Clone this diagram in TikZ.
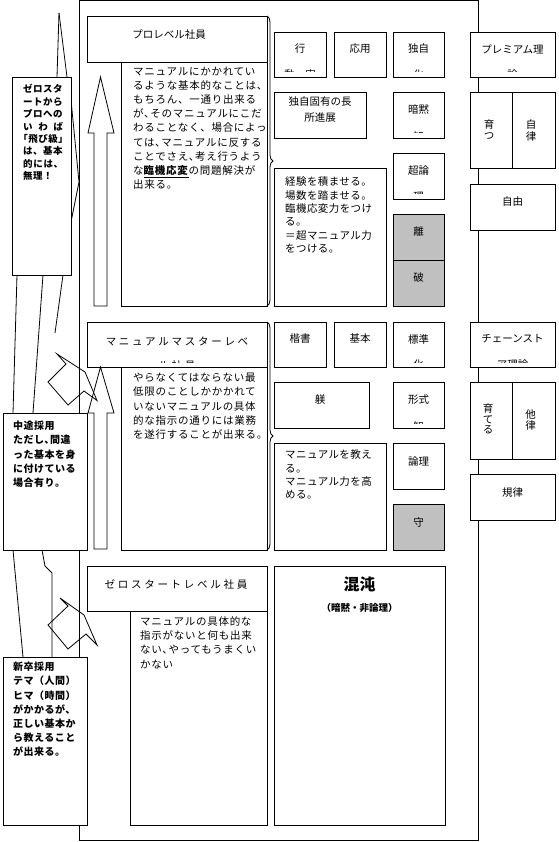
\documentclass[tikz,border=0pt]{standalone}
\usepackage{fontspec}
\setmainfont{Noto Sans CJK JP}
\usetikzlibrary{decorations.pathreplacing}
\definecolor{shade}{RGB}{192,192,192}
\tikzset{
  ln/.style={line width=0.8pt},
  bx/.style={draw, line width=0.8pt, fill=white, inner sep=0pt, outer sep=0pt, anchor=north west},
  gbx/.style={bx, fill=shade},
  lbl/.style={inner sep=0pt, align=center, font=\fontsize{10.5}{11}\selectfont},
  hdr/.style={inner sep=0pt, font=\fontsize{10.5}{14}\selectfont\addfontfeature{LetterSpace=26}},
  body/.style={inner sep=0pt, anchor=north west, align=left, font=\fontsize{10.5}{14.2}\selectfont\addfontfeature{LetterSpace=7}},
  note/.style={inner sep=0pt, anchor=north west, align=left, font=\fontsize{10.5}{13.4}\selectfont\addfontfeature{LetterSpace=4}},
  callA/.style={inner sep=0pt, anchor=north west, align=left, font=\fontsize{9.5}{12.4}\selectfont\bfseries\addfontfeature{LetterSpace=5}},
  callB/.style={inner sep=0pt, anchor=north west, align=left, font=\fontsize{10}{14.2}\selectfont\bfseries\addfontfeature{LetterSpace=5}},
  brc/.style={line width=0.8pt, decorate, decoration={brace, amplitude=6pt}},
  barrow/.style={line width=0.8pt, fill=white}
}
\begin{document}
\begin{tikzpicture}[x=1pt,y=-1pt]
\useasboundingbox (0,0) rectangle (558,842);
% outer frame
\node[bx, minimum width=399pt, minimum height=839.4pt] (frame) at (79,0.6) {};

% ---------- left side lines ----------
\coordinate (s1) at (59,13);
\draw[ln] (s1) -- (57,77);
\draw[ln] (s1) -- (67,77);
\draw[ln] (71,100) -- (79,182) -- (71,222);
\draw[ln] (17,275) -- (13,413);
\draw[ln] (43,275) -- (33,413);
\draw[ln] (63,275) -- (55,333);
\draw[ln] (13,550) -- (23,657);
\draw[ln] (42,550) -- (45,566) -- (52,573) -- (52,657);

% ---------- PRO section ----------
\node[bx, minimum width=180pt, minimum height=46pt] (proH) at (87,16) {};
\node[bx, minimum width=146pt, minimum height=244pt] (proT) at (121,62) {};
\node[lbl] (proHt) at (169,35) {プロレベル社員};
\node[body] (proTt) at (133,66.6) {マニュアルにかかれてい\\るような基本的なことは、\\もちろん、一通り出来る\\が､そのマニュアルにこだ\\わることなく、場合によっ\\ては､マニュアルに反する\\ことでさえ､考え行うよう\\な\underline{\textbf{臨機応変}}の問題解決が\\出来る。};
\draw[brc] (proH.north east) -- (proT.south east);
\draw[barrow] (94,306) -- (94,133) -- (88,133) -- (100.5,77) -- (114,133) -- (107,133) -- (107,306) -- cycle;

\node[bx, minimum width=52pt, minimum height=45pt] (gyo) at (274,32) {};
\node[bx, minimum width=52pt, minimum height=45pt] (oyo) at (334,32) {};
\node[bx, minimum width=51pt, minimum height=45pt] (dokuji) at (393,32) {};
\node[bx, minimum width=92pt, minimum height=46pt] (chosho) at (274,92) {};
\node[bx, minimum width=51pt, minimum height=46pt] (anmoku) at (393,92) {};
\node[bx, minimum width=51pt, minimum height=46pt] (choron) at (393,153) {};
\node[bx, minimum width=112pt, minimum height=138pt] (keiken) at (274,168) {};
\node[gbx, minimum width=51pt, minimum height=46pt] (ri) at (393,214) {};
\node[gbx, minimum width=51pt, minimum height=46pt] (ha) at (393,260) {};
\node[bx, minimum width=85pt, minimum height=45pt] (premium) at (470,32) {};
\node[bx, minimum width=42pt, minimum height=76pt] (sodatsu) at (470,92) {};
\node[bx, minimum width=43pt, minimum height=76pt] (jiritsu) at (512,92) {};
\node[bx, minimum width=85pt, minimum height=46pt] (jiyu) at (470,184) {};

\node[lbl] (gyoT) at (300,49) {行};
\node[lbl] (oyoT) at (360,49) {応用};
\node[lbl] (dokujiT) at (418.5,49) {独自};
\node[lbl, font=\fontsize{10.5}{16}\selectfont] (choshoT) at (320,110) {独自固有の長\\所進展};
\node[lbl] (anmokuT) at (418.5,110) {暗黙};
\node[lbl] (choronT) at (418.5,171) {超論};
\node[note] (keikenT) at (285,176.7) {経験を積ませる。\\場数を踏ませる。\\臨機応変力をつけ\\る。\\＝超マニュアル力\\をつける。};
\node[lbl] (riT) at (418.5,232) {離};
\node[lbl] (haT) at (418.5,278) {破};
\node[lbl] (premiumT) at (512.5,49) {プレミアム理};
\node[lbl] (sodatsuT) at (489,130) {育\\つ};
\node[lbl, font=\fontsize{10.5}{11.5}\selectfont] (jiritsuT) at (531,130.5) {自\\律};
\node[lbl] (jiyuT) at (512.5,202) {自由};

% clipped second lines
\begin{scope}\clip (274,32) rectangle (326,72);
\node[lbl] (gyoC) at (300,75) {動・実};\end{scope}
\begin{scope}\clip (393,32) rectangle (444,72);
\node[lbl] (dokujiC) at (418.5,75) {化};\end{scope}
\begin{scope}\clip (393,92) rectangle (444,133);
\node[lbl] (anmokuC) at (418.5,136) {知};\end{scope}
\begin{scope}\clip (393,153) rectangle (444,194);
\node[lbl] (choronC) at (418.5,197) {理};\end{scope}
\begin{scope}\clip (470,32) rectangle (555,72);
\node[lbl] (premiumC) at (512.5,75) {論};\end{scope}

% ---------- MASTER section ----------
\node[bx, minimum width=180pt, minimum height=45pt] (masH) at (87,322) {};
\node[bx, minimum width=146pt, minimum height=183pt] (masT) at (121,367) {};
\node[hdr] (masHt) at (177,341) {マニュアルマスターレベ};
\begin{scope}\clip (87,322) rectangle (267,362.5);
\node[hdr] (masHc) at (177,365.5) {ル社員};\end{scope}
\node[body] (masTt) at (133,373) {やらなくてはならない最\\低限のことしかかかれて\\いないマニュアルの具体\\的な指示の通りには業務\\を遂行することが出来る。};
\draw[brc] (masH.north east) -- (masT.south east);
\draw[barrow] (94,549) -- (94,413) -- (88,413) -- (100.5,367) -- (114,413) -- (107,413) -- (107,549) -- cycle;

\node[bx, minimum width=52pt, minimum height=45pt] (kaisho) at (274,322) {};
\node[bx, minimum width=52pt, minimum height=45pt] (kihon) at (334,322) {};
\node[bx, minimum width=51pt, minimum height=45pt] (hyojun) at (393,322) {};
\node[bx, minimum width=95pt, minimum height=46pt] (shitsuke) at (274,382) {};
\node[bx, minimum width=51pt, minimum height=46pt] (keishiki) at (393,382) {};
\node[bx, minimum width=112pt, minimum height=107pt] (oshieru) at (274,443) {};
\node[bx, minimum width=51pt, minimum height=46pt] (ronri) at (393,443) {};
\node[gbx, minimum width=51pt, minimum height=46pt] (shu) at (393,504) {};
\node[bx, minimum width=85pt, minimum height=45pt] (chain) at (470,322) {};
\node[bx, minimum width=42pt, minimum height=77pt] (sodateru) at (470,382) {};
\node[bx, minimum width=43pt, minimum height=77pt] (taritsu) at (512,382) {};
\node[bx, minimum width=85pt, minimum height=46pt] (kiritsu) at (470,474) {};

\node[lbl] (kaishoT) at (300,339) {楷書};
\node[lbl] (kihonT) at (360,339) {基本};
\node[lbl] (hyojunT) at (418.5,339) {標準};
\node[lbl] (shitsukeT) at (320,400) {躾};
\node[lbl] (keishikiT) at (418.5,400) {形式};
\node[note] (oshieruT) at (285,449.7) {マニュアルを教え\\る。\\マニュアル力を高\\める。};
\node[lbl] (ronriT) at (418.5,462) {論理};
\node[lbl] (shuT) at (418.5,523) {守};
\node[lbl] (chainT) at (512.5,339) {チェーンスト};
\node[lbl, font=\fontsize{10.5}{10.7}\selectfont] (sodateruT) at (488,419) {育\\て\\る};
\node[lbl] (taritsuT) at (530.5,420) {他\\律};
\node[lbl] (kiritsuT) at (512.5,492) {規律};

\begin{scope}\clip (393,322) rectangle (444,362);
\node[lbl] (hyojunC) at (418.5,365) {化};\end{scope}
\begin{scope}\clip (393,382) rectangle (444,423);
\node[lbl] (keishikiC) at (418.5,426) {知};\end{scope}
\begin{scope}\clip (470,322) rectangle (555,362);
\node[lbl] (chainC) at (512.5,365) {ア理論};\end{scope}

% ---------- ZERO section ----------
\node[bx, minimum width=180pt, minimum height=45pt] (zeroH) at (87,566) {};
\node[bx, minimum width=137pt, minimum height=214pt] (zeroT) at (130,611) {};
\node[hdr] (zeroHt) at (176,585) {ゼロスタートレベル社員};
\node[body] (zeroTt) at (140,616.4) {マニュアルの具体的な\\指示がないと何も出来\\ない､やってもうまくい\\かない};
\node[bx, minimum width=171pt, minimum height=259pt] (chaos) at (274,566) {};
\node[inner sep=0pt, font=\fontsize{16}{18}\selectfont\bfseries] (chaosT) at (359.5,584) {混沌};
\node[inner sep=0pt, font=\fontsize{9.5}{11}\selectfont\bfseries] (chaosS) at (359.5,608) {（暗黙・非論理）};

% ---------- kites ----------
\draw[ln] (57,354) -- (85,372) -- (97,400.5) -- (84,391) -- (68,405) -- (48,382) -- (66,364) -- cycle;
\draw[ln] (60,598) -- (84,615) -- (97,645) -- (86,634) -- (68,649) -- (48,625) -- (68,606) -- cycle;

% ---------- callouts ----------
\node[bx, minimum width=59pt, minimum height=198pt] (c1) at (12,77) {};
\node[callA] (c1T) at (23,84.3) {ゼロスタ\\ートから\\プロへの\\\makebox[40pt][s]{い\hfil わ\hfil ば}\\｢飛び級｣\\は、基本\\\makebox[40pt][s]{的\hfil に\hfil は、}\\無理！};
\node[bx, minimum width=84pt, minimum height=137pt] (c2) at (3,413) {};
\node[callB] (c2T) at (13,421) {中途採用\\ただし､間違\\った基本を身\\に付けている\\場合有り。};
\node[bx, minimum width=84pt, minimum height=168pt] (c3) at (3,657) {};
\node[callB] (c3T) at (13,662) {新卒採用\\テマ（人間）\\ヒマ（時間）\\がかかるが､\\正しい基本か\\ら教えること\\が出来る。};
\end{tikzpicture}
\end{document}
